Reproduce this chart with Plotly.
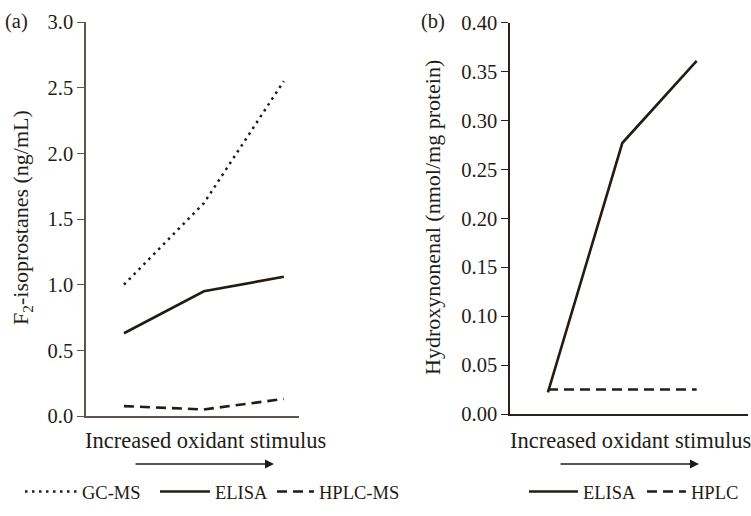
import plotly.graph_objects as go

# ---- data ----
stimulus_levels = [1, 2, 3]
gcms_a = [1.00, 1.62, 2.55]
elisa_a = [0.63, 0.95, 1.06]
hplcms_a = [0.075, 0.05, 0.13]

elisa_b = [0.022, 0.277, 0.361]
hplc_b = [0.025, 0.025, 0.025]

yticks_a = [0.0, 0.5, 1.0, 1.5, 2.0, 2.5, 3.0]
yticks_b = [0.00, 0.05, 0.10, 0.15, 0.20, 0.25, 0.30, 0.35, 0.40]

W, H = 751, 516
FONT = "Liberation Serif"
INK = "#231c16"
AX_A = "#5e554c"
AX_B = "#2a221c"

def px(x):
    return x / W

def py(y):
    return 1 - y / H

fig = go.Figure()

fig.add_trace(go.Scatter(x=stimulus_levels, y=gcms_a, mode="lines", name="GC-MS",
                         line=dict(color=INK, width=2.5, dash="2.5px,4.5px"),
                         xaxis="x", yaxis="y", legend="legend"))
fig.add_trace(go.Scatter(x=stimulus_levels, y=elisa_a, mode="lines", name="ELISA",
                         line=dict(color=INK, width=2.6),
                         xaxis="x", yaxis="y", legend="legend2"))
fig.add_trace(go.Scatter(x=stimulus_levels, y=hplcms_a, mode="lines", name="HPLC-MS",
                         line=dict(color=INK, width=2.6, dash="10px,6px"),
                         xaxis="x", yaxis="y", legend="legend3"))

fig.add_trace(go.Scatter(x=stimulus_levels, y=elisa_b, mode="lines", name="ELISA",
                         line=dict(color=INK, width=2.6),
                         xaxis="x2", yaxis="y2", legend="legend4"))
fig.add_trace(go.Scatter(x=stimulus_levels, y=hplc_b, mode="lines", name="HPLC",
                         line=dict(color=INK, width=2.6, dash="10px,6px"),
                         xaxis="x2", yaxis="y2", legend="legend5"))

common_x = dict(showgrid=False, zeroline=False, showticklabels=False, ticks="",
                showline=True, linewidth=1.5, fixedrange=True, mirror=False)
common_y = dict(showgrid=False, zeroline=False, ticks="outside", ticklen=7, mirror=False,
                showline=True, linewidth=1.5, tickfont=dict(family=FONT, size=20.5, color=INK))

def leg(x0, iw):
    return dict(orientation="h", x=px(x0), y=py(492), xanchor="left", yanchor="middle",
                itemwidth=iw, font=dict(family=FONT, size=18.5, color=INK),
                bgcolor="rgba(0,0,0,0)", borderwidth=0)

fig.update_layout(
    width=W, height=H,
    margin=dict(l=0, r=0, t=0, b=0, autoexpand=False),
    paper_bgcolor="white", plot_bgcolor="white",
    font=dict(family=FONT, size=18, color=INK),
    xaxis=dict(domain=[px(86), px(299)], range=[0.525, 3.19], anchor="y",
               linecolor=AX_A, **common_x),
    yaxis=dict(domain=[py(416), py(22)], range=[0, 3.0], anchor="x",
               tickvals=yticks_a, ticktext=[f"{v:.1f}" for v in yticks_a],
               linecolor=AX_A, tickcolor=AX_A, **common_y),
    xaxis2=dict(domain=[px(510), px(748)], range=[0.49, 3.69], anchor="y2",
                linecolor=AX_B, **common_x),
    yaxis2=dict(domain=[py(414), py(22.7)], range=[0, 0.40], anchor="x2",
                tickvals=yticks_b, ticktext=[f"{v:.2f}" for v in yticks_b],
                linecolor=AX_B, tickcolor=AX_B, **common_y),
    legend=leg(20, 52),
    legend2=leg(155, 50),
    legend3=leg(272, 37),
    legend4=leg(524, 49),
    legend5=leg(642, 39),
    showlegend=True,
)

annotations = [
    dict(text="(a)", x=px(16), y=py(22), xref="paper", yref="paper", showarrow=False,
         font=dict(family=FONT, size=20.5, color=INK), xanchor="center", yanchor="middle"),
    dict(text="(b)", x=px(433), y=py(22), xref="paper", yref="paper", showarrow=False,
         font=dict(family=FONT, size=20.5, color=INK), xanchor="center", yanchor="middle"),
    dict(text="F<sub>2</sub>-isoprostanes (ng/mL)", x=px(22), y=py(218), xref="paper", yref="paper",
         showarrow=False, textangle=-90, font=dict(family=FONT, size=22, color=INK),
         xanchor="center", yanchor="middle"),
    dict(text="Hydroxynonenal (nmol/mg protein)", x=px(432), y=py(218), xref="paper", yref="paper",
         showarrow=False, textangle=-90, font=dict(family=FONT, size=22, color=INK),
         xanchor="center", yanchor="middle"),
    dict(text="Increased oxidant stimulus", x=px(205), y=py(440), xref="paper", yref="paper",
         showarrow=False, font=dict(family=FONT, size=22.5, color=INK),
         xanchor="center", yanchor="middle"),
    dict(text="Increased oxidant stimulus", x=px(630), y=py(440), xref="paper", yref="paper",
         showarrow=False, font=dict(family=FONT, size=22.5, color=INK),
         xanchor="center", yanchor="middle"),
    # arrows
    dict(text="", x=px(274), y=py(464), ax=-140, ay=0, xref="paper", yref="paper",
         axref="pixel", ayref="pixel", showarrow=True, arrowhead=2, arrowsize=1.2,
         arrowwidth=1.5, arrowcolor=INK),
    dict(text="", x=px(699), y=py(464), ax=-140, ay=0, xref="paper", yref="paper",
         axref="pixel", ayref="pixel", showarrow=True, arrowhead=2, arrowsize=1.2,
         arrowwidth=1.5, arrowcolor=INK),
]
fig.update_layout(annotations=annotations)

fig.write_html("out.html")
